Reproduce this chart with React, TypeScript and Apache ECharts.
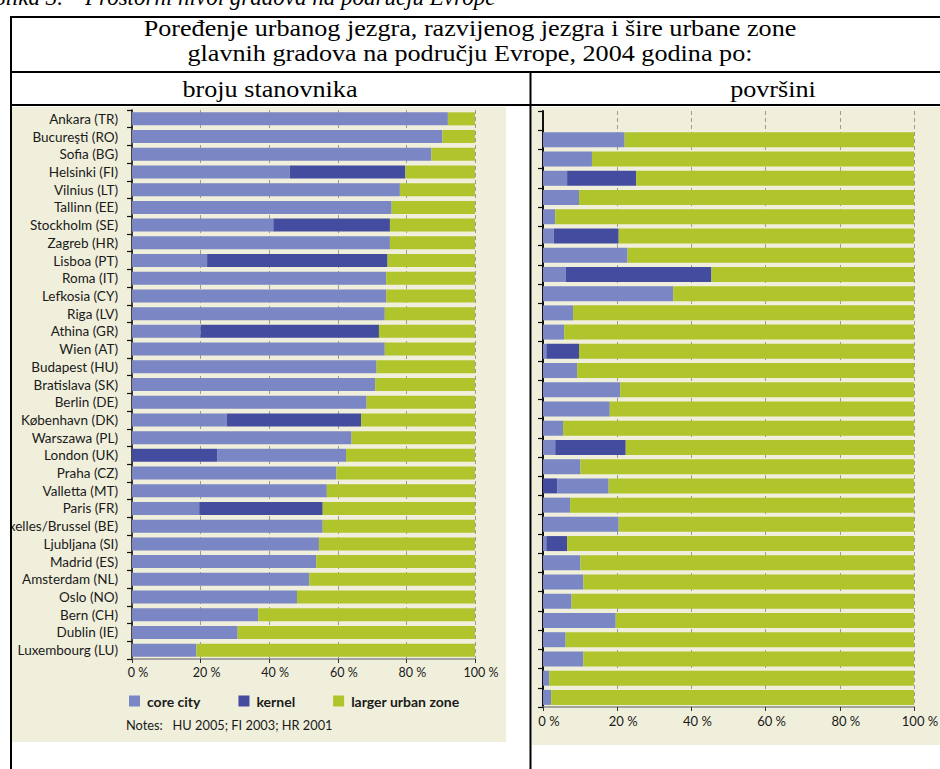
import React, { useEffect, useRef } from 'react';
import * as echarts from 'echarts';

// ---------- left panel: by population ----------
const cities = [
  'Ankara (TR)', 'Bucureşti (RO)', 'Sofia (BG)', 'Helsinki (FI)', 'Vilnius (LT)', 'Tallinn (EE)',
  'Stockholm (SE)', 'Zagreb (HR)', 'Lisboa (PT)', 'Roma (IT)', 'Lefkosia (CY)', 'Riga (LV)',
  'Athina (GR)', 'Wien (AT)', 'Budapest (HU)', 'Bratislava (SK)', 'Berlin (DE)', 'København (DK)',
  'Warszawa (PL)', 'London (UK)', 'Praha (CZ)', 'Valletta (MT)', 'Paris (FR)', 'Bruxelles/Brussel (BE)',
  'Ljubljana (SI)', 'Madrid (ES)', 'Amsterdam (NL)', 'Oslo (NO)', 'Bern (CH)', 'Dublin (IE)', 'Luxembourg (LU)',
];
const popKernelBefore = [0, 0, 0, 0, 0, 0, 0, 0, 0, 0, 0, 0, 0, 0, 0, 0, 0, 0, 0, 24.8, 0, 0, 0, 0, 0, 0, 0, 0, 0, 0, 0];
const popCore = [92.1, 90.5, 87.3, 46.0, 78.1, 75.7, 41.2, 75.2, 21.9, 74.1, 74.1, 73.7, 20.0, 73.7, 71.3, 70.9,
  68.4, 27.6, 64.0, 37.6, 59.6, 56.8, 19.6, 55.6, 54.5, 53.7, 51.7, 48.1, 36.8, 30.8, 18.8];
const popKernelAfter = [0, 0, 0, 33.7, 0, 0, 34.0, 0, 52.6, 0, 0, 0, 52.0, 0, 0, 0,
  0, 39.2, 0, 0, 0, 0, 36.0, 0, 0, 0, 0, 0, 0, 0, 0];

// ---------- right panel: by area (first row empty) ----------
const areaRows = ['', 'r1', 'r2', 'r3', 'r4', 'r5', 'r6', 'r7', 'r8', 'r9', 'r10', 'r11', 'r12', 'r13', 'r14', 'r15',
  'r16', 'r17', 'r18', 'r19', 'r20', 'r21', 'r22', 'r23', 'r24', 'r25', 'r26', 'r27', 'r28', 'r29', 'r30'];
const areaKernelBefore = [null, 0, 0, 0, 0, 0, 0, 0, 0, 0, 0, 0, 0, 0, 0, 0, 0, 0, 0, 3.8, 0, 0, 0, 0, 0, 0, 0, 0, 0, 0, 0];
const areaCore = [null, 22.0, 13.2, 6.5, 9.7, 3.3, 2.9, 22.8, 6.1, 35.1, 8.1, 5.7, 0.9, 9.2, 20.8, 18.0,
  5.4, 3.3, 10.1, 13.9, 7.3, 20.4, 0.9, 10.1, 10.9, 7.7, 19.6, 6.1, 10.9, 1.7, 2.2];
const areaKernelAfter = [null, 0, 0, 18.6, 0, 0, 17.5, 0, 39.3, 0, 0, 0, 8.8, 0, 0, 0,
  0, 19.0, 0, 0, 0, 0, 5.6, 0, 0, 0, 0, 0, 0, 0, 0];

const xTicks = [0, 20, 40, 60, 80, 100];
const legendNames = ['core city', 'kernel', 'larger urban zone'];

const C_CORE = '#7b86c4';
const C_KERNEL = '#444c9f';
const C_LUZ = '#afc52b';
const BEIGE = '#f0efdb';
const SANS = 'Lato, "Open Sans", sans-serif';
const SERIF = '"Liberation Serif", "Times New Roman", serif';

function remainder(a: (number | null)[], b: (number | null)[], c: (number | null)[]) {
  return a.map((v, i) => (v === null ? null : +(100 - (v || 0) - (b[i] || 0) - (c[i] || 0)).toFixed(1)));
}

export default function App() {
  const ref = useRef<HTMLDivElement>(null);
  useEffect(() => {
    if (!ref.current) return;
    const chart = echarts.init(ref.current, null, { renderer: 'svg' });
    const popLuz = remainder(popKernelBefore, popCore, popKernelAfter);
    const areaLuz = remainder(areaKernelBefore, areaCore, areaKernelAfter);

    const xAxisBase = (fontSize: number) => ({
      type: 'value',
      min: 0,
      max: 100,
      interval: 20,
      axisLabel: {
        formatter: (v: number) => (xTicks.includes(v) ? v + ' %' : ''),
        fontFamily: SANS,
        fontSize,
        color: '#1a1a1a',
        margin: 7,
        padding: [0, 0, 0, 12],
      },
      axisLine: { show: true, lineStyle: { color: '#8a8a8a', width: 1.5 } },
      axisTick: { show: true, length: 4, lineStyle: { color: '#333' } },
      splitLine: { show: true, lineStyle: { color: '#9a9a9a', type: [4, 3], width: 1 } },
    });

    const yAxisBase = {
      type: 'category',
      inverse: true,
      axisLine: { show: true, lineStyle: { color: '#111', width: 1.5 } },
      axisTick: { show: true, inside: false, length: 5, interval: 0, lineStyle: { color: '#111', width: 1.2 } },
      splitLine: { show: false },
    };

    const bar = (name: string, data: any[], color: string, gi: number, bw: number) => ({
      type: 'bar',
      name,
      stack: 's' + gi,
      xAxisIndex: gi,
      yAxisIndex: gi,
      data,
      barWidth: bw,
      itemStyle: { color },
      emphasis: { disabled: true },
    });

    const title = (text: string, x: number, y: number, sx: number) => ({
      type: 'text', z: 101, x, y, scaleX: sx,
      style: { text, font: `24px ${SERIF}`, fill: '#000', align: 'center', verticalAlign: 'middle' },
    });

    chart.setOption({
      animation: false,
      backgroundColor: '#ffffff',
      grid: [
        { left: 132, right: 940 - 475, top: 110, bottom: 769 - 659, containLabel: false, outerBoundsMode: 'none' },
        { left: 543, right: 940 - 914, top: 111, bottom: 769 - 707, containLabel: false, outerBoundsMode: 'none' },
      ],
      xAxis: [
        { ...xAxisBase(12.5), gridIndex: 0 },
        { ...xAxisBase(13), gridIndex: 1 },
      ],
      yAxis: [
        {
          ...yAxisBase,
          gridIndex: 0,
          data: cities,
          axisLabel: { interval: 0, fontFamily: SANS, fontSize: 13.5, color: '#1a1a1a', margin: 14 },
        },
        {
          ...yAxisBase,
          gridIndex: 1,
          data: areaRows,
          axisLabel: { show: false },
          axisLine: { show: true, lineStyle: { color: '#111', width: 2 } },
        },
      ],
      legend: {
        data: legendNames,
        left: 129,
        top: 694,
        padding: 0,
        icon: 'rect',
        itemWidth: 11,
        itemHeight: 11,
        itemGap: 38,
        selectedMode: false,
        textStyle: { fontFamily: SANS, fontSize: 14, fontWeight: 'bold', color: '#1a1a1a', padding: [0, 0, 0, 2] },
      },
      series: [
        bar('kernel', popKernelBefore, C_KERNEL, 0, 13),
        bar('core city', popCore, C_CORE, 0, 13),
        bar('kernel', popKernelAfter, C_KERNEL, 0, 13),
        bar('larger urban zone', popLuz, C_LUZ, 0, 13),
        bar('kernel', areaKernelBefore, C_KERNEL, 1, 15),
        bar('core city', areaCore, C_CORE, 1, 15),
        bar('kernel', areaKernelAfter, C_KERNEL, 1, 15),
        bar('larger urban zone', areaLuz, C_LUZ, 1, 15),
      ],
      graphic: [
        // panel backgrounds
        { type: 'rect', z: -10, silent: true, shape: { x: 12, y: 107, width: 494, height: 635 }, style: { fill: BEIGE } },
        { type: 'rect', z: -10, silent: true, shape: { x: 532, y: 107, width: 408, height: 638 }, style: { fill: BEIGE } },
        // mask left of the table
        { type: 'rect', z: 100, silent: true, shape: { x: 0, y: 106, width: 11, height: 663 }, style: { fill: '#ffffff' } },
        // table lines
        { type: 'line', z: 101, silent: true, shape: { x1: 10, y1: 17, x2: 940, y2: 17 }, style: { stroke: '#000', lineWidth: 2 } },
        { type: 'line', z: 101, silent: true, shape: { x1: 10, y1: 72, x2: 940, y2: 72 }, style: { stroke: '#000', lineWidth: 2 } },
        { type: 'line', z: 101, silent: true, shape: { x1: 10, y1: 105, x2: 940, y2: 105 }, style: { stroke: '#000', lineWidth: 2 } },
        { type: 'line', z: 101, silent: true, shape: { x1: 11, y1: 16, x2: 11, y2: 769 }, style: { stroke: '#000', lineWidth: 2 } },
        { type: 'line', z: 101, silent: true, shape: { x1: 530.5, y1: 72, x2: 530.5, y2: 769 }, style: { stroke: '#000', lineWidth: 2 } },
        // caption (cut off at top, as in the source scan)
        { type: 'text', z: 101, x: -6, y: -3, style: { text: 'Slika 3.', font: `italic 23px ${SERIF}`, fill: '#000', verticalAlign: 'middle' } },
        { type: 'text', z: 101, x: 85, y: -3, style: { text: 'Prostorni nivoi gradova na području Evrope', font: `italic 23px ${SERIF}`, fill: '#000', verticalAlign: 'middle' } },
        // titles
        title('Poređenje urbanog jezgra, razvijenog jezgra i šire urbane zone', 470, 28, 1.09),
        title('glavnih gradova na području Evrope, 2004 godina po:', 470, 52.5, 1.09),
        title('broju stanovnika', 270, 89, 1.09),
        title('površini', 773, 89, 1.09),
        // notes
        { type: 'text', z: 101, x: 126, y: 725, style: { text: 'Notes:   HU 2005; FI 2003; HR 2001', font: `12.8px ${SANS}`, fill: '#1a1a1a', verticalAlign: 'middle' } },
      ],
    });
    return () => chart.dispose();
  }, []);
  return <div ref={ref} style={{ position: 'absolute', left: 0, top: 0, width: 940, height: 769 }} />;
}
